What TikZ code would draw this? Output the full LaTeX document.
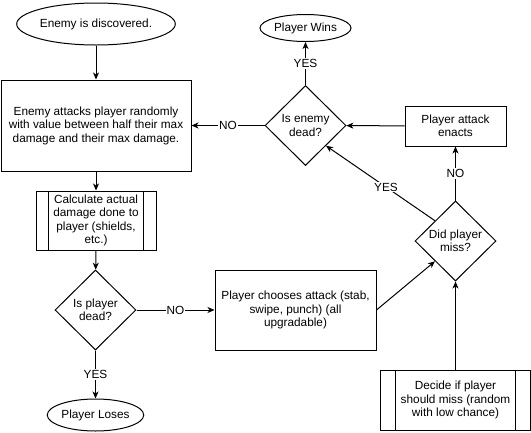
\documentclass[tikz,border=0pt]{standalone}
\usepackage{fontspec}
\setmainfont{Liberation Sans}
\usetikzlibrary{shapes.geometric,arrows.meta}
\tikzset{
  /tikz/.cd,
  every node/.style={font=\fontsize{11.8}{13.5}\selectfont,align=center},
  box/.style={draw,inner sep=0pt},
  subproc/.style={box,path picture={\draw ([xshift=#1]path picture bounding box.north west) -- ([xshift=#1]path picture bounding box.south west) ([xshift=-#1]path picture bounding box.north east) -- ([xshift=-#1]path picture bounding box.south east);}},
  subproc/.default=12pt,
  terminal/.style={draw,ellipse,inner sep=0pt},
  decision/.style={draw,diamond,inner sep=0pt,minimum width=81pt,minimum height=80pt}
}

\begin{document}
\begin{tikzpicture}[x=1pt,y=-1pt,line width=1pt,
                    flow/.style={-{Stealth[length=7pt,width=6pt,inset=2pt]}},
                    answer/.style={fill=white,inner sep=1pt}]
  \useasboundingbox (0,0) rectangle (531,432);

  \node[terminal,minimum width=142pt,minimum height=42pt] (found) at (96,24) {Enemy is discovered.};
  \node[box,minimum width=190pt,minimum height=91pt] (enemyhit) at (96,125.5) {Enemy attacks player randomly\\with value between half their max\\damage and their max damage.};
  \node[subproc=12.5pt,minimum width=120pt,minimum height=59pt] (calc) at (96,220.5) {Calculate actual\\damage done to\\player (shields,\\etc.)};
  \node[decision] (pdead) at (95.5,310) {Is player\\dead?};
  \node[terminal,minimum width=91pt,minimum height=32pt] (lose) at (95.5,415) {Player Loses};
  \node[box,minimum width=161pt,minimum height=80pt] (choose) at (295.5,310) {Player chooses attack (stab,\\swipe, punch) (all\\upgradable)};
  \node[decision] (miss) at (455.5,241) {Did player\\miss?};
  \node[subproc=15pt,minimum width=150pt,minimum height=60pt] (decide) at (455.5,400) {Decide if player\\should miss (random\\with low chance)};
  \node[box,minimum width=101pt,minimum height=40pt] (enact) at (455.5,126) {Player attack\\enacts};
  \node[decision] (edead) at (305.5,125.5) {Is enemy\\dead?};
  \node[terminal,minimum width=91pt,minimum height=27pt] (win) at (305.5,28) {Player Wins};

  \draw[flow] (found) -- (enemyhit);
  \draw[flow] (enemyhit) -- (calc);
  \draw[flow] (calc) -- (pdead);
  \draw[flow] (pdead) -- node[answer] {YES} (lose);
  \draw[flow] (pdead) -- node[answer] {NO} (choose);
  \draw[flow] (choose.east) -- (miss.south west);
  \draw[flow] (decide) -- (miss);
  \draw[flow] (miss) -- node[answer] {NO} (enact);
  \draw[flow] (miss.north west) -- node[answer,pos=0.45] {YES} (edead.south east);
  \draw[flow] (enact) -- (edead);
  \draw[flow] (edead) -- node[answer] {NO} (enemyhit);
  \draw[flow] (edead) -- node[answer] {YES} (win);
\end{tikzpicture}
\end{document}
